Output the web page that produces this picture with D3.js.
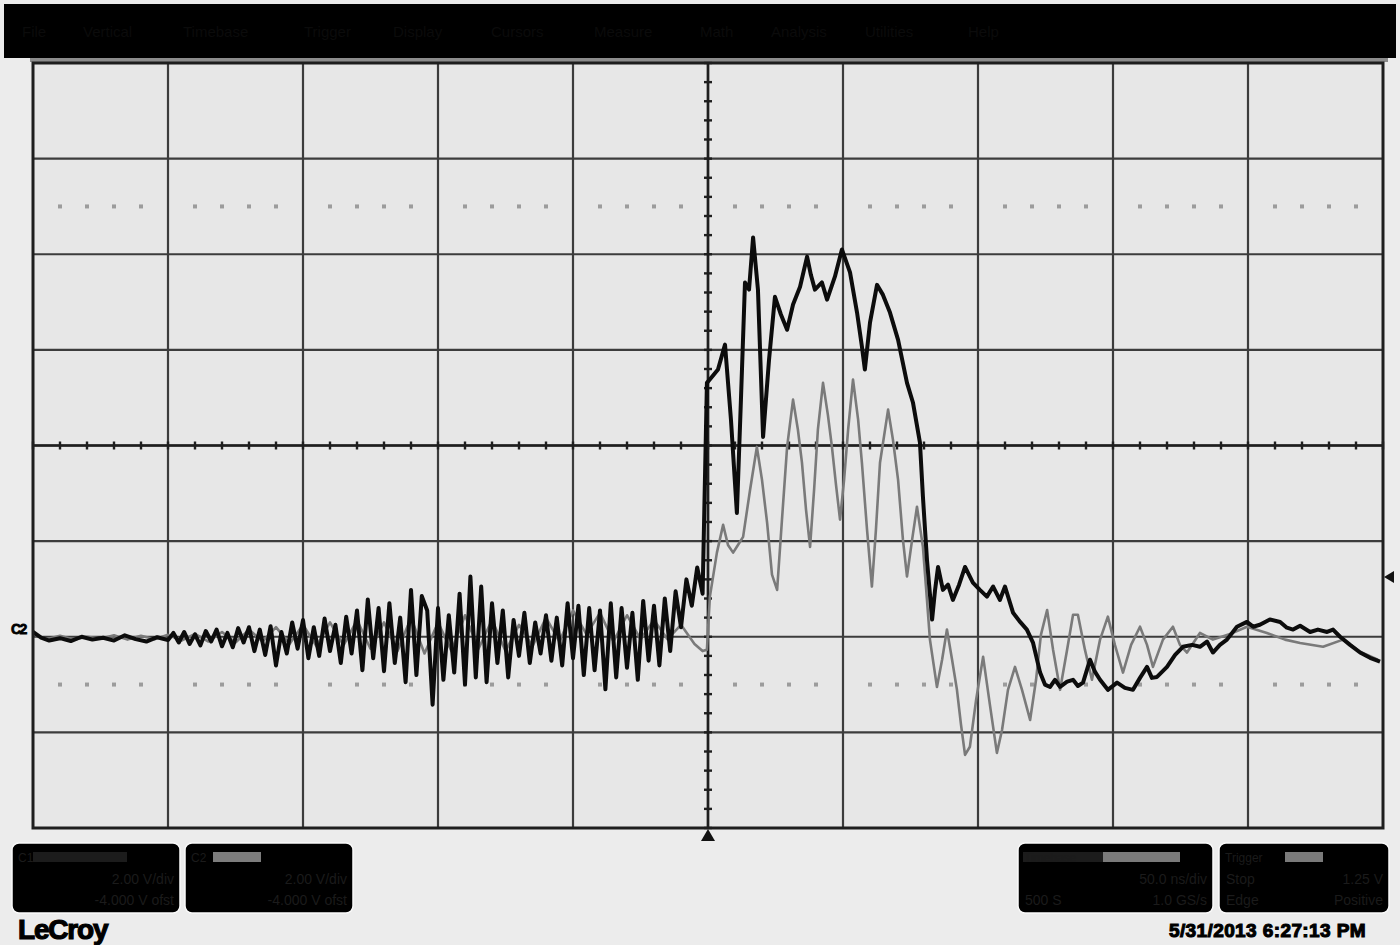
<!DOCTYPE html>
<html>
<head>
<meta charset="utf-8">
<script src="https://cdn.jsdelivr.net/npm/d3@7"></script>
<style>
  html, body { margin: 0; padding: 0; background: #ececec; }
  svg { display: block; font-family: "Liberation Sans", Arial, sans-serif; }
</style>
</head>
<body>
<svg id="scope" width="1400" height="945"></svg>
<script>
// menu bar (drawn almost black on black, like the screenshot)
const menuItems = ['File', 'Vertical', 'Timebase', 'Trigger', 'Display', 'Cursors',
  'Measure', 'Math', 'Analysis', 'Utilities', 'Help'];
const menuX = [22, 83, 183, 304, 393, 491, 594, 700, 771, 865, 968];

// time in ns (50 ns/div), volts (2 V/div, -4 V offset)
const timeRange = [-250, 250];
const voltRange = [-4, 12];
const dottedLevels = [9, -1];
const triggerLevel = 1.25;

// C1, black trace  [ns, V]
const ch1Trace = [
  [-250, 0.10], [-247, -0.02], [-244, -0.08], [-240, -0.03], [-236, -0.09], [-232, 0.00],
  [-228, -0.06], [-224, -0.02], [-220, -0.08], [-216, 0.03], [-212, -0.05], [-208, -0.10],
  [-204, -0.01], [-200, -0.07],
  [-198, 0.08], [-196, -0.12], [-194, 0.10], [-192, -0.15], [-190, 0.05], [-188, -0.18],
  [-186, 0.12], [-184, -0.10], [-182, 0.15], [-180, -0.20], [-178, 0.08], [-176, -0.22],
  [-174, 0.18], [-172, -0.12], [-170, 0.20], [-168, -0.30], [-166, 0.15], [-164, -0.38],
  [-162, 0.22], [-160, -0.60], [-158, 0.10], [-156, -0.35], [-154, 0.30], [-152, -0.25],
  [-150, 0.35], [-148, -0.45], [-146, 0.20], [-144, -0.40], [-142, 0.38], [-140, -0.30],
  [-138, 0.25], [-136, -0.55], [-134, 0.42], [-132, -0.35], [-130, 0.55], [-128, -0.70],
  [-126, 0.78], [-124, -0.45], [-122, 0.60], [-120, -0.72], [-118, 0.70], [-116, -0.55],
  [-114, 0.40], [-112, -0.95], [-110, 0.98], [-108, -0.80], [-106, 0.85], [-104, 0.55],
  [-102, -1.42], [-100, 0.60], [-98, -0.90], [-96, 0.45], [-94, -0.75], [-92, 0.90],
  [-90, -1.00], [-88, 1.26], [-86, -0.85], [-84, 1.05], [-82, -0.95], [-80, 0.70],
  [-78, -0.55], [-76, 0.55], [-74, -0.85], [-72, 0.35], [-70, -0.40], [-68, 0.50],
  [-66, -0.55], [-64, 0.30], [-62, -0.35], [-60, 0.45], [-58, -0.50], [-56, 0.40],
  [-54, -0.60], [-52, 0.70], [-50, -0.45], [-48, 0.65], [-46, -0.80], [-44, 0.60],
  [-42, -0.70], [-40, 0.55], [-38, -1.10], [-36, 0.70], [-34, -0.85], [-32, 0.60],
  [-30, -0.65], [-28, 0.50], [-26, -0.90], [-24, 0.75], [-22, -0.50], [-20, 0.65],
  [-18, -0.60], [-16, 0.80], [-14, -0.30], [-12, 0.95], [-10, 0.20], [-8, 1.20],
  [-6, 0.65], [-4, 1.45], [-2, 0.90],
  [-0.4, 5.31], [1.5, 5.44], [3.7, 5.59], [6.3, 6.11], [8.5, 4.54], [10.7, 2.59],
  [12.2, 4.96], [13.7, 7.41], [15.2, 7.26], [16.7, 8.35], [18.5, 7.26], [20.4, 4.18],
  [22.6, 5.79], [24.8, 7.11], [27.0, 6.74], [29.3, 6.42], [31.5, 6.95], [34.1, 7.32],
  [36.7, 7.95], [38.1, 7.57], [39.6, 7.26], [42.2, 7.41], [44.1, 7.05], [47.0, 7.53],
  [49.6, 8.10], [52.6, 7.62], [55.2, 6.78], [57.0, 6.07], [58.1, 5.59], [60.0, 6.57],
  [62.6, 7.36], [64.8, 7.15], [67.4, 6.78], [70.4, 6.21], [73.7, 5.31], [75.9, 4.90],
  [78.5, 4.06], [79.6, 2.93], [81.1, 1.61], [83.0, 0.36], [84.1, 0.98], [85.2, 1.46],
  [87.0, 0.98], [88.9, 1.09], [90.7, 0.77], [93.0, 1.09], [95.2, 1.46], [98.1, 1.13],
  [100.7, 0.98], [103.3, 0.84], [105.6, 1.05], [108.1, 0.77], [110.0, 1.05], [113.0, 0.50],
  [115.6, 0.31], [118.1, 0.15], [120.4, -0.13], [123.0, -0.75], [124.8, -1.00], [126.7, -1.05],
  [128.5, -0.90], [130.4, -1.05], [133.0, -0.94], [135.2, -0.90], [137.0, -1.03], [138.9, -0.96],
  [141.5, -0.48], [143.3, -0.73], [145.2, -0.90], [148.1, -1.11], [151.5, -0.96], [154.4, -1.07],
  [157.4, -1.11], [160.0, -0.86], [162.6, -0.63], [164.4, -0.86], [166.3, -0.84], [170.0, -0.63],
  [173.0, -0.38], [175.9, -0.21], [179.3, -0.17], [182.2, -0.21], [184.8, -0.10], [187.0, -0.33],
  [189.6, -0.17], [192.2, -0.06], [195.9, 0.21], [199.6, 0.31], [201.9, 0.21], [204.4, 0.25],
  [208.1, 0.36], [211.9, 0.31], [214.4, 0.19], [216.7, 0.15], [219.3, 0.23], [223.0, 0.10],
  [225.9, 0.15], [229.3, 0.10], [231.5, 0.15], [234.1, 0.00], [237.8, -0.17], [241.5, -0.33],
  [245.2, -0.44], [248.9, -0.52]
];

// C2, gray trace  [ns, V]
const ch2Trace = [
  [-250, 0.05], [-245, -0.05], [-240, 0.02], [-235, -0.06], [-230, 0.00], [-225, -0.04],
  [-220, 0.03], [-215, -0.06], [-210, 0.02], [-205, -0.05], [-200, 0.04], [-195, -0.08],
  [-190, 0.06], [-185, -0.10], [-180, 0.10], [-175, -0.12], [-170, 0.15], [-165, -0.10],
  [-160, 0.20], [-155, -0.15], [-150, 0.25], [-145, -0.20], [-140, 0.30], [-135, -0.18],
  [-130, 0.35], [-125, -0.25], [-120, 0.30], [-115, -0.30], [-110, 0.40], [-105, -0.35],
  [-100, 0.30], [-95, -0.30], [-90, 0.45], [-85, -0.25], [-80, 0.35], [-75, -0.30],
  [-70, 0.25], [-65, -0.20], [-60, 0.40], [-55, -0.10], [-50, 0.55], [-45, 0.05],
  [-40, 0.50], [-35, -0.10], [-30, 0.45], [-25, -0.05], [-20, 0.35], [-15, -0.05],
  [-10, 0.25], [-5, -0.15], [-2, -0.30],
  [-0.4, -0.27], [0.7, 0.84], [3.3, 1.76], [5.6, 2.34], [7.4, 1.92], [9.3, 1.76],
  [11.1, 1.92], [13.0, 2.09], [15.6, 3.08], [18.1, 3.97], [20.0, 3.28], [21.9, 2.38],
  [23.7, 1.30], [25.6, 0.98], [27.4, 2.45], [29.3, 3.97], [31.5, 4.96], [33.3, 4.33],
  [34.8, 3.64], [36.3, 2.66], [37.8, 1.88], [39.3, 3.08], [40.7, 4.33], [42.6, 5.31],
  [44.4, 4.64], [45.9, 3.97], [47.4, 3.18], [48.9, 2.45], [50.4, 3.28], [51.9, 4.33],
  [53.7, 5.38], [55.6, 4.54], [57.0, 3.64], [58.9, 2.24], [60.7, 1.05], [62.2, 2.24],
  [63.7, 3.64], [66.7, 4.75], [68.5, 4.12], [70.4, 3.28], [72.2, 2.03], [73.7, 1.26],
  [75.6, 2.03], [77.4, 2.72], [79.6, 1.88], [81.1, 0.77], [82.2, -0.06], [84.8, -1.05],
  [86.7, -0.48], [88.5, 0.15], [90.4, -0.48], [92.2, -1.11], [93.7, -1.84], [95.2, -2.47],
  [97.0, -2.30], [99.3, -1.32], [101.9, -0.42], [104.4, -1.42], [107.0, -2.43], [108.9, -1.95],
  [111.1, -1.11], [113.7, -0.63], [116.3, -1.11], [119.3, -1.74], [121.5, -0.90], [123.3, 0.04],
  [125.6, 0.56], [127.8, -0.27], [130.4, -1.11], [133.0, -0.27], [135.2, 0.46], [137.0, 0.46],
  [139.6, -0.27], [142.2, -0.90], [145.2, -0.06], [148.1, 0.42], [150.7, -0.17], [153.7, -0.75],
  [156.7, -0.17], [160.0, 0.21], [162.6, -0.17], [164.8, -0.63], [168.5, -0.06], [172.2, 0.21],
  [174.8, -0.17], [177.4, -0.33], [182.2, 0.08], [187.0, -0.06], [194.4, 0.08], [199.6, 0.21],
  [207.0, 0.08], [213.7, -0.06], [219.3, -0.13], [227.8, -0.21], [235.2, -0.06], [241.5, -0.31],
  [248.1, -0.48]
];

// readout boxes under the grid
const boxHeaders = ['C1', 'C2', 'Timebase', 'Trigger'];
const boxRight1 = ['2.00 V/div', '2.00 V/div', '50.0 ns/div', '1.25 V'];
const boxRight2 = ['-4.000 V ofst', '-4.000 V ofst', '1.0 GS/s', 'Positive'];
const boxLeft1 = ['', '', '', 'Stop'];
const boxLeft2 = ['', '', '500 S', 'Edge'];
const stampText = '5/31/2013 6:27:13 PM';

(function (window) {

  'use strict';

  var svg = d3.select('#scope');
  var plot = { left: 33, right: 1383, top: 63, bottom: 828 };

  var x = d3.scaleLinear().domain(timeRange).range([plot.left, plot.right]);
  var y = d3.scaleLinear().domain(voltRange).range([plot.bottom, plot.top]);

  svg.append('rect').attr('width', 1400).attr('height', 945).attr('fill', '#ececec');

  // menu bar
  svg.append('rect').attr('x', 4).attr('y', 4).attr('width', 1392).attr('height', 54).attr('fill', '#000');
  svg.append('rect').attr('x', 30).attr('y', 58).attr('width', 1358).attr('height', 4).attr('fill', '#8c8c8c');
  svg.selectAll('text.menu').data(menuItems).enter().append('text')
    .attr('class', 'menu')
    .attr('x', function (d, i) { return menuX[i]; })
    .attr('y', 37)
    .attr('font-size', 15)
    .attr('fill', '#0b0b0b')
    .text(function (d) { return d; });

  // grid background
  svg.append('rect')
    .attr('x', plot.left).attr('y', plot.top)
    .attr('width', plot.right - plot.left).attr('height', plot.bottom - plot.top)
    .attr('fill', '#e7e7e7');

  var grid = svg.append('g');
  var xDivs = x.ticks(10);
  var yDivs = y.ticks(8);

  grid.selectAll('line.v').data(xDivs.slice(1, -1)).enter().append('line')
    .attr('x1', x).attr('x2', x)
    .attr('y1', plot.top).attr('y2', plot.bottom)
    .attr('stroke', '#3c3c3c').attr('stroke-width', 2.2);

  grid.selectAll('line.h').data(yDivs.slice(1, -1)).enter().append('line')
    .attr('y1', y).attr('y2', y)
    .attr('x1', plot.left).attr('x2', plot.right)
    .attr('stroke', '#3c3c3c').attr('stroke-width', 2.2);

  // dotted rows, four dots per division
  var dots = [];
  dottedLevels.forEach(function (v) {
    xDivs.slice(0, -1).forEach(function (t0) {
      [10, 20, 30, 40].forEach(function (dt) { dots.push([t0 + dt, v]); });
    });
  });
  grid.selectAll('rect.dot').data(dots).enter().append('rect')
    .attr('x', function (d) { return x(d[0]) - 2; })
    .attr('y', function (d) { return y(d[1]) - 2; })
    .attr('width', 4).attr('height', 4)
    .attr('fill', '#9c9c9c');

  // centre axes with minor ticks
  var tMid = 0, vMid = (voltRange[0] + voltRange[1]) / 2;
  grid.append('line')
    .attr('x1', x(tMid)).attr('x2', x(tMid)).attr('y1', plot.top).attr('y2', plot.bottom)
    .attr('stroke', '#1e1e1e').attr('stroke-width', 2.6);
  grid.append('line')
    .attr('y1', y(vMid)).attr('y2', y(vMid)).attr('x1', plot.left).attr('x2', plot.right)
    .attr('stroke', '#1e1e1e').attr('stroke-width', 2.6);

  grid.selectAll('line.tx').data(d3.range(timeRange[0], timeRange[1] + 1, 10)).enter().append('line')
    .attr('x1', x).attr('x2', x)
    .attr('y1', y(vMid) - 4).attr('y2', y(vMid) + 4)
    .attr('stroke', '#1e1e1e').attr('stroke-width', 2.4);
  grid.selectAll('line.ty').data(d3.range(voltRange[0], voltRange[1] + 0.01, 0.4)).enter().append('line')
    .attr('y1', y).attr('y2', y)
    .attr('x1', x(tMid) - 4).attr('x2', x(tMid) + 4)
    .attr('stroke', '#1e1e1e').attr('stroke-width', 2.4);

  // traces
  var line = d3.line()
    .x(function (d) { return x(d[0]); })
    .y(function (d) { return y(d[1]); });

  svg.append('path').datum(ch2Trace)
    .attr('d', line).attr('fill', 'none')
    .attr('stroke', '#7a7a7a').attr('stroke-width', 2.6)
    .attr('stroke-linejoin', 'round');

  svg.append('path').datum(ch1Trace)
    .attr('d', line).attr('fill', 'none')
    .attr('stroke', '#0c0c0c').attr('stroke-width', 4)
    .attr('stroke-linejoin', 'round');

  // frame
  svg.append('rect')
    .attr('x', plot.left).attr('y', plot.top)
    .attr('width', plot.right - plot.left).attr('height', plot.bottom - plot.top)
    .attr('fill', 'none').attr('stroke', '#1e1e1e').attr('stroke-width', 3);

  // markers: channel at left, trigger level at right, trigger time at bottom
  svg.append('text')
    .attr('x', 11).attr('y', y(0) - 3)
    .attr('font-size', 14).attr('font-weight', 'bold').attr('letter-spacing', -1.5)
    .attr('fill', '#000').attr('stroke', '#000').attr('stroke-width', 0.8).text('C2');
  var ty = y(triggerLevel);
  svg.append('path')
    .attr('d', 'M' + (plot.right + 1) + ',' + ty + 'L' + (plot.right + 11) + ',' + (ty - 6) +
      'L' + (plot.right + 11) + ',' + (ty + 6) + 'Z')
    .attr('fill', '#111');
  var tx = x(0);
  svg.append('path')
    .attr('d', 'M' + tx + ',' + (plot.bottom + 1) + 'L' + (tx - 7) + ',' + (plot.bottom + 13) +
      'L' + (tx + 7) + ',' + (plot.bottom + 13) + 'Z')
    .attr('fill', '#111');

  // readout boxes
  var boxes = [
    { x: 12, w: 168, bars: [[33, 127, '#1c1c1c']] },
    { x: 185, w: 168, bars: [[213, 261, '#7d7d7d']] },
    { x: 1018, w: 195, bars: [[1023, 1103, '#1c1c1c'], [1103, 1180, '#7a7a7a']] },
    { x: 1219, w: 170, bars: [[1285, 1323, '#7a7a7a']] }
  ];
  var faint = '#1b1b1b';
  boxes.forEach(function (b, i) {
    var g = svg.append('g');
    g.append('rect')
      .attr('x', b.x).attr('y', 843).attr('width', b.w).attr('height', 70)
      .attr('rx', 7).attr('fill', '#000').attr('stroke', '#fafafa').attr('stroke-width', 1.5);
    b.bars.forEach(function (bar) {
      g.append('rect').attr('x', bar[0]).attr('y', 852).attr('width', bar[1] - bar[0]).attr('height', 10)
        .attr('fill', bar[2]);
    });
    g.append('text').attr('x', b.x + 6).attr('y', 862).attr('font-size', 12)
      .attr('fill', faint).text(boxHeaders[i]);
    g.append('text').attr('x', b.x + b.w - 6).attr('y', 884).attr('font-size', 14)
      .attr('text-anchor', 'end').attr('fill', faint).text(boxRight1[i]);
    g.append('text').attr('x', b.x + b.w - 6).attr('y', 905).attr('font-size', 14)
      .attr('text-anchor', 'end').attr('fill', faint).text(boxRight2[i]);
    g.append('text').attr('x', b.x + 7).attr('y', 884).attr('font-size', 14)
      .attr('fill', faint).text(boxLeft1[i]);
    g.append('text').attr('x', b.x + 7).attr('y', 905).attr('font-size', 14)
      .attr('fill', faint).text(boxLeft2[i]);
  });

  // logo and time stamp
  svg.append('text')
    .attr('x', 18).attr('y', 939)
    .attr('font-size', 28).attr('font-weight', 'bold').attr('letter-spacing', -1.2)
    .attr('fill', '#000').attr('stroke', '#000').attr('stroke-width', 1.2)
    .text('LeCroy');
  svg.append('text')
    .attr('x', 1366).attr('y', 937).attr('text-anchor', 'end')
    .attr('font-size', 19).attr('font-weight', 'bold').attr('letter-spacing', 0.4)
    .attr('fill', '#000').attr('stroke', '#000').attr('stroke-width', 1.1)
    .text(stampText);

})(window);
</script>
</body>
</html>
